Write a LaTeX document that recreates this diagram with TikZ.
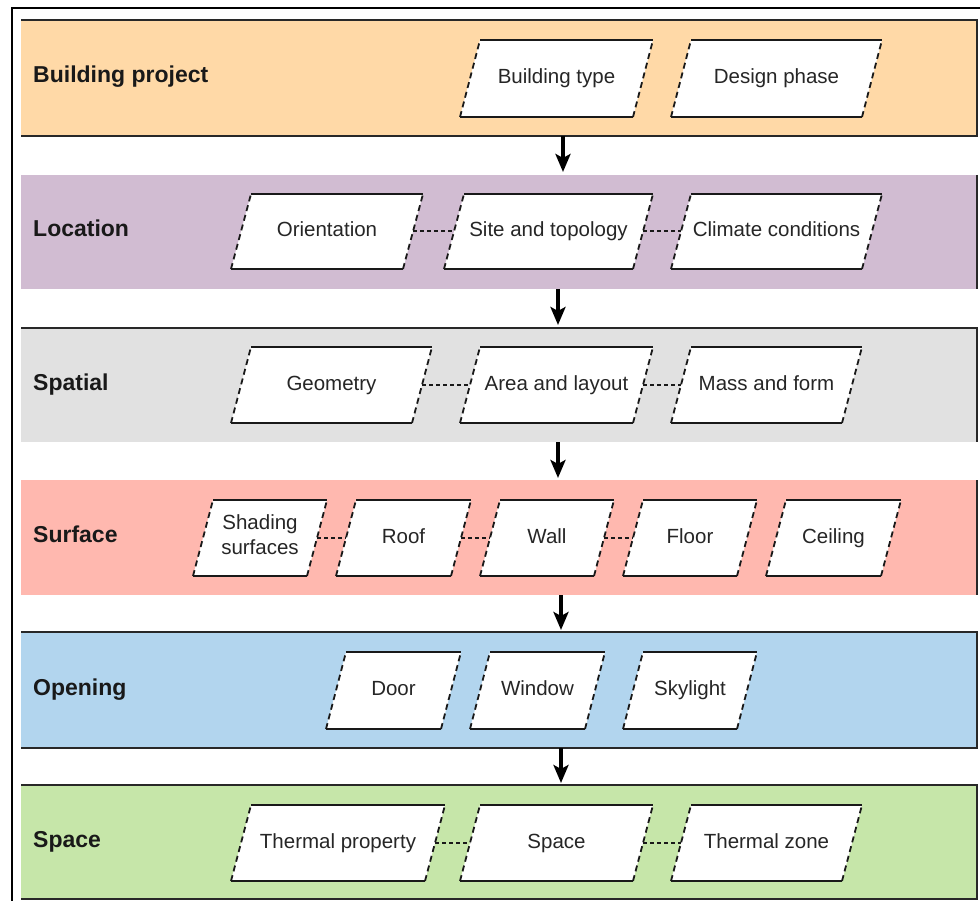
\documentclass[tikz,border=0pt]{standalone}
\usepackage{fontspec}
\setmainfont{Liberation Sans}
\usetikzlibrary{arrows.meta,calc}
\definecolor{cPeach}{RGB}{255,217,167}
\definecolor{cPurple}{RGB}{209,188,210}
\definecolor{cGray}{RGB}{225,225,225}
\definecolor{cSalmon}{RGB}{255,184,175}
\definecolor{cBlue}{RGB}{178,213,238}
\definecolor{cGreen}{RGB}{198,230,169}
\definecolor{cEdge}{RGB}{40,40,40}
\tikzset{
  bandedge/.style={draw=cEdge,line width=1.6pt},
  solidedge/.style={draw=black!90,line width=2pt},
  dashedge/.style={draw=black!90,line width=1.8pt,dash pattern=on 6pt off 4pt},
  conn/.style={draw=black!90,line width=2pt,dash pattern=on 4pt off 3pt},
  ptext/.style={font=\fontsize{20.5}{25}\selectfont,text=black!85,align=center,inner sep=0pt,anchor=base},
  blabel/.style={font=\fontsize{23}{27}\selectfont\bfseries,text=black!90,anchor=base west,inner sep=0pt},
  flowarrow/.style={draw=black,line width=4pt,-{Stealth[length=18pt,width=15pt,inset=4pt]}},
}
% [#1 extra node style], #2 name, #3 bottom-left x, #4 bottom-right x, #5 top y, #6 bottom y, #7 text
\newcommand\pgram[7][]{%
  \fill[white] (#3,#6) -- (#4,#6) -- (#4+20,#5) -- (#3+20,#5) -- cycle;
  \draw[solidedge] (#3,#6) -- (#4,#6) (#3+20,#5) -- (#4+20,#5);
  \draw[dashedge] (#3,#6) -- (#3+20,#5) (#4,#6) -- (#4+20,#5);
  \node[ptext,#1] (#2) at ({(#3+#4)/2+10},{(#5+#6)/2+5}) {#7};
  \coordinate (#2-L) at (#3+10,{(#5+#6)/2});
  \coordinate (#2-R) at (#4+10,{(#5+#6)/2});
}
\begin{document}
\begin{tikzpicture}[x=1pt,y=-1pt]
\useasboundingbox (0,0) rectangle (980,901);
\fill[white] (0,0) rectangle (980,901);
% outer frame
\draw[line width=2pt,draw=black] (12,901) -- (12,8) -- (980,8);
% bands
\fill[cPeach] (21,20) rectangle (977,136);
\draw[bandedge] (21,20) -- (977,20) -- (977,136) -- (21,136);
\fill[cPurple] (21,175) rectangle (977,289);
\draw[bandedge] (977,175) -- (977,289);
\fill[cGray] (21,328) rectangle (977,442);
\draw[bandedge] (21,328) -- (977,328) -- (977,442);
\fill[cSalmon] (21,480) rectangle (977,595);
\draw[bandedge] (977,480) -- (977,595);
\fill[cBlue] (21,632) rectangle (977,748);
\draw[bandedge] (21,632) -- (977,632) -- (977,748) -- (21,748);
\fill[cGreen] (21,785) rectangle (977,899);
\draw[bandedge] (21,785) -- (977,785) -- (977,899) -- (21,899);
% labels
\node[blabel] (lbl1) at (33,83) {Building project};
\node[blabel] (lbl2) at (33,237) {Location};
\node[blabel] (lbl3) at (33,390) {Spatial};
\node[blabel] (lbl4) at (33,542) {Surface};
\node[blabel] (lbl5) at (33,695) {Opening};
\node[blabel] (lbl6) at (33,847) {Space};
% band 1
\pgram{btype}{460}{633}{40}{117}{Building type}
\pgram{dphase}{671}{862}{40}{117}{Design phase}
% band 2
\pgram{orient}{231}{403}{194}{269}{Orientation}
\pgram{site}{444}{633}{194}{269}{Site and topology}
\pgram{climate}{671}{862}{194}{269}{Climate conditions}
\draw[conn] (orient-R) -- (site-L);
\draw[conn] (site-R) -- (climate-L);
% band 3
\pgram{geom}{231}{412}{347}{423}{Geometry}
\pgram{area}{460}{633}{347}{423}{Area and layout}
\pgram{mass}{671}{842}{347}{423}{Mass and form}
\draw[conn] (geom-R) -- (area-L);
\draw[conn] (area-R) -- (mass-L);
% band 4
\pgram[anchor=center,yshift=8pt]{shading}{193}{307}{500}{576}{Shading\\surfaces}
\pgram{roof}{336}{451}{500}{576}{Roof}
\pgram{wall}{480}{594}{500}{576}{Wall}
\pgram{floor}{623}{737}{500}{576}{Floor}
\pgram{ceiling}{766}{881}{500}{576}{Ceiling}
\draw[conn] (shading-R) -- (roof-L);
\draw[conn] (roof-R) -- (wall-L);
\draw[conn] (wall-R) -- (floor-L);
% band 5
\pgram{door}{326}{441}{652}{729}{Door}
\pgram{window}{470}{585}{652}{729}{Window}
\pgram{skylight}{623}{737}{652}{729}{Skylight}
% band 6
\pgram{tprop}{231}{425}{805}{881}{Thermal property}
\pgram{space}{460}{633}{805}{881}{Space}
\pgram{tzone}{671}{842}{805}{881}{Thermal zone}
\draw[conn] (tprop-R) -- (space-L);
\draw[conn] (space-R) -- (tzone-L);
% arrows between bands
\coordinate (a1s) at (563,136); \coordinate (a1e) at (563,172);
\coordinate (a2s) at (558,289); \coordinate (a2e) at (558,325);
\coordinate (a3s) at (558,442); \coordinate (a3e) at (558,478);
\coordinate (a4s) at (561,595); \coordinate (a4e) at (561,630);
\coordinate (a5s) at (561,748); \coordinate (a5e) at (561,783);
\draw[flowarrow] (a1s) -- (a1e);
\draw[flowarrow] (a2s) -- (a2e);
\draw[flowarrow] (a3s) -- (a3e);
\draw[flowarrow] (a4s) -- (a4e);
\draw[flowarrow] (a5s) -- (a5e);
\end{tikzpicture}
\end{document}
